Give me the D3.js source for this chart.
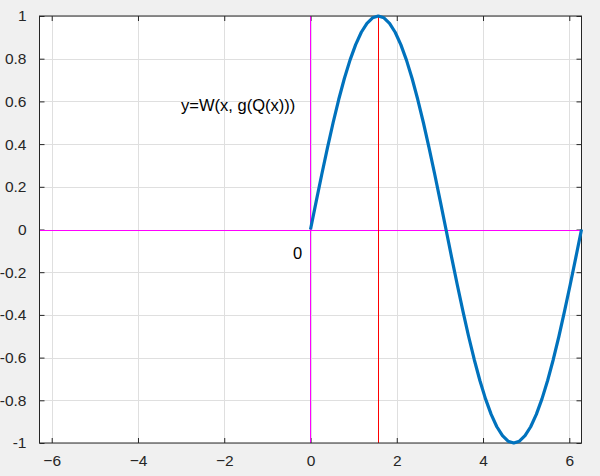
<!DOCTYPE html>
<html><head><meta charset="utf-8">
<script src="https://cdn.jsdelivr.net/npm/d3@7"></script>
<style>html,body{margin:0;padding:0;background:#f0f0f0;}svg{display:block;}</style>
</head><body>
<svg id="c" width="600" height="476"></svg>
<script>
const xTicks = [-6,-4,-2,0,2,4,6];
const yTicks = [-1,-0.8,-0.6,-0.4,-0.2,0,0.2,0.4,0.6,0.8,1];
const yTickLabels = ["-1","-0.8","-0.6","-0.4","-0.2","0","0.2","0.4","0.6","0.8","1"];
const curveX = [0,0.131,0.262,0.393,0.524,0.654,0.785,0.916,1.047,1.178,1.309,1.440,1.571,1.702,1.833,1.963,2.094,2.225,2.356,2.487,2.618,2.749,2.880,3.011,3.142,3.272,3.403,3.534,3.665,3.796,3.927,4.058,4.189,4.320,4.451,4.581,4.712,4.843,4.974,5.105,5.236,5.367,5.498,5.629,5.760,5.890,6.021,6.152,6.283];
const curveY = [0,0.1305,0.2588,0.3827,0.5,0.6088,0.7071,0.7934,0.8660,0.9239,0.9659,0.9914,1,0.9914,0.9659,0.9239,0.8660,0.7934,0.7071,0.6088,0.5,0.3827,0.2588,0.1305,0,-0.1305,-0.2588,-0.3827,-0.5,-0.6088,-0.7071,-0.7934,-0.8660,-0.9239,-0.9659,-0.9914,-1,-0.9914,-0.9659,-0.9239,-0.8660,-0.7934,-0.7071,-0.6088,-0.5,-0.3827,-0.2588,-0.1305,0];
const xDomain = [-6.2832, 6.2832];
const yDomain = [-1, 1];
const markerX = 1.5708;
const labelText = "y=W(x, g(Q(x)))";
const labelPos = [-3.0, 0.58];
const zeroText = "0";
const zeroPos = [-0.3, -0.11];

const L = 39.5, R = 581.5, T = 16, B = 443;
const svg = d3.select("#c");
const x = d3.scaleLinear().domain(xDomain).range([L, R]);
const y = d3.scaleLinear().domain(yDomain).range([B, T]);
const font = "'Liberation Sans', Arial, sans-serif";
const px = v => Math.round(v) + 0.5;
const pxf = v => Math.floor(v) + 0.5;

svg.append("rect").attr("x",L).attr("y",T).attr("width",R-L).attr("height",B-T).attr("fill","#fff");

// grid
const g = svg.append("g").attr("stroke","#dfdfdf").attr("stroke-width",1);
xTicks.forEach(t=>g.append("line").attr("x1",px(x(t))).attr("x2",px(x(t))).attr("y1",T).attr("y2",B));
yTicks.forEach(t=>g.append("line").attr("y1",px(y(t))).attr("y2",px(y(t))).attr("x1",L).attr("x2",R));

// axes with inward ticks
const tl = 5;
const xb = svg.append("g").attr("transform",`translate(0,${B})`).call(d3.axisBottom(x).tickValues(xTicks).tickSize(-tl).tickPadding(12).tickFormat(d3.format("d")));
const xt = svg.append("g").attr("transform",`translate(0,${T})`).call(d3.axisTop(x).tickValues(xTicks).tickSize(-tl).tickFormat(""));
const yl = svg.append("g").attr("transform",`translate(${L},0)`).call(d3.axisLeft(y).tickValues(yTicks).tickSize(-tl).tickPadding(13).tickFormat((d,i)=>yTickLabels[i]));
const yr = svg.append("g").attr("transform",`translate(${R},0)`).call(d3.axisRight(y).tickValues(yTicks).tickSize(-tl).tickFormat(""));
[xb,xt,yl,yr].forEach(a=>{
  a.select(".domain").remove();
  a.selectAll("line").attr("stroke","#262626");
  a.selectAll("text").attr("fill","#262626").style("font-family",font).style("font-size","15.5px");
});

// reference lines
svg.append("line").attr("x1",pxf(x(0))).attr("x2",pxf(x(0))).attr("y1",T).attr("y2",B).attr("stroke","#ff00ff").attr("stroke-width",1);
svg.append("line").attr("x1",L).attr("x2",R).attr("y1",px(y(0))).attr("y2",px(y(0))).attr("stroke","#ff00ff").attr("stroke-width",1);
svg.append("line").attr("x1",pxf(x(markerX))).attr("x2",pxf(x(markerX))).attr("y1",T).attr("y2",B).attr("stroke","#ff0000").attr("stroke-width",1);

svg.append("rect").attr("x",L).attr("y",T).attr("width",R-L).attr("height",B-T).attr("fill","none").attr("stroke","#262626").attr("stroke-width",1);

// curve
const data = curveX.map((v,i)=>[v,curveY[i]]);
svg.append("path").datum(data).attr("fill","none").attr("stroke","#0072bd").attr("stroke-width",3.2).attr("stroke-linejoin","round")
  .attr("d", d3.line().x(d=>x(d[0])).y(d=>y(d[1])));

// text
svg.append("text").attr("x",x(labelPos[0])).attr("y",y(labelPos[1])).attr("text-anchor","start").attr("dy","0.35em")
  .style("font-family",font).style("font-size","16.5px").attr("fill","#000").text(labelText);
svg.append("text").attr("x",x(zeroPos[0])).attr("y",y(zeroPos[1])).attr("text-anchor","middle").attr("dy","0.35em")
  .style("font-family",font).style("font-size","16.5px").attr("fill","#000").text(zeroText);
</script>
</body></html>
